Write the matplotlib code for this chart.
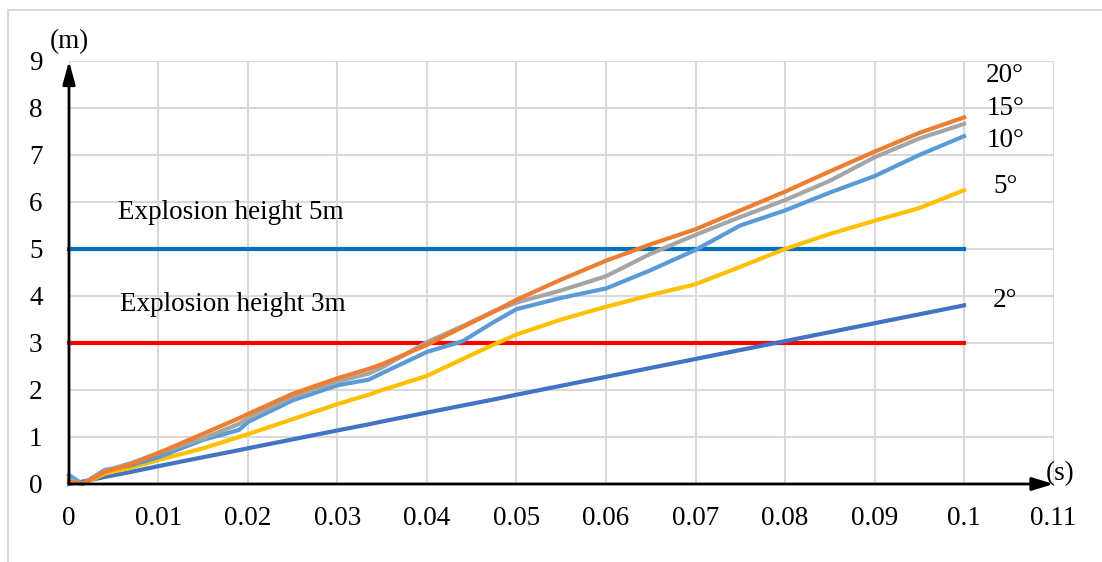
import matplotlib.pyplot as plt
from matplotlib.lines import Line2D

plt.rcParams['font.family'] = ['Liberation Serif', 'DejaVu Serif']

# Time (s) sample points shared by the angle curves
t = [0, 0.0015, 0.004, 0.007, 0.01, 0.015, 0.019, 0.02, 0.025, 0.03, 0.0335,
     0.035, 0.04, 0.044, 0.0475, 0.05, 0.055, 0.06, 0.065, 0.07, 0.075, 0.08,
     0.085, 0.09, 0.095, 0.1]

# Height (m) for each launch angle
h_2 = [0, 0.05, 0.15, 0.26, 0.38, 0.57, 0.72, 0.76, 0.95, 1.14, 1.27,
       1.33, 1.52, 1.67, 1.80, 1.90, 2.09, 2.28, 2.47, 2.66, 2.85, 3.04,
       3.23, 3.42, 3.61, 3.80]
h_5 = [0.12, 0.0, 0.22, 0.35, 0.51, 0.76, 1.0, 1.06, 1.38, 1.70, 1.90,
       2.0, 2.30, 2.66, 2.97, 3.18, 3.50, 3.77, 4.02, 4.25, 4.62, 5.0,
       5.32, 5.60, 5.87, 6.25]
h_10 = [0.19, 0.0, 0.30, 0.40, 0.57, 0.94, 1.15, 1.32, 1.78, 2.10, 2.22,
        2.36, 2.81, 3.04, 3.45, 3.72, 3.96, 4.16, 4.55, 4.98, 5.50, 5.82,
        6.20, 6.55, 7.00, 7.40]
h_15 = [0.1, 0.0, 0.28, 0.45, 0.66, 0.97, 1.28, 1.40, 1.86, 2.18, 2.35,
        2.48, 3.02, 3.36, 3.68, 3.86, 4.12, 4.42, 4.90, 5.30, 5.68, 6.04,
        6.45, 6.95, 7.35, 7.66]
h_20 = [0.05, 0.0, 0.26, 0.42, 0.66, 1.07, 1.40, 1.49, 1.92, 2.25, 2.45,
        2.55, 2.96, 3.34, 3.67, 3.92, 4.35, 4.75, 5.10, 5.42, 5.82, 6.22,
        6.65, 7.07, 7.47, 7.80]

series = [
    (h_2, '#4472C4', '2°', 3.9),
    (h_5, '#FFC000', '5°', 6.32),
    (h_10, '#5B9BD5', '10°', 7.3),
    (h_15, '#A5A5A5', '15°', 7.98),
    (h_20, '#ED7D31', '20°', 8.7),
]

# Explosion heights
ref_x = [0, 0.1]
ref_5 = [5, 5]
ref_3 = [3, 3]

x_ticks = [0, 0.01, 0.02, 0.03, 0.04, 0.05, 0.06, 0.07, 0.08, 0.09, 0.1, 0.11]
x_labels = ['0', '0.01', '0.02', '0.03', '0.04', '0.05', '0.06', '0.07',
            '0.08', '0.09', '0.1', '0.11']
y_ticks = list(range(10))

fig = plt.figure(figsize=(11.02, 5.62), dpi=100)
ax = fig.add_axes([0.0626, 0.1388, 0.8934, 0.7527])

ax.set_xlim(0, 0.11)
ax.set_ylim(0, 9)
ax.set_xticks(x_ticks)
ax.set_xticklabels(x_labels)
ax.set_yticks(y_ticks)
ax.tick_params(axis='both', length=0, labelsize=19.5)
ax.tick_params(axis='x', pad=16)
ax.tick_params(axis='y', pad=19)
ax.grid(True, color='#d9d9d9', linewidth=1.5)
ax.set_axisbelow(True)
for side in ['top', 'right', 'left', 'bottom']:
    ax.spines[side].set_visible(False)

# reference lines
ax.plot(ref_x, ref_5, color='#0070C0', linewidth=3, clip_on=False)
ax.plot(ref_x, ref_3, color='#FF0000', linewidth=3, clip_on=False)

for h, c, lab, ly in series:
    ax.plot(t, h, color=c, linewidth=3, clip_on=False, solid_joinstyle='round')
    ax.text(0.1046, ly, lab, fontsize=19.5, ha='center', va='center')

ax.text(0.0055, 5.77, 'Explosion height 5m', fontsize=19.5, ha='left', va='center')
ax.text(0.0057, 3.81, 'Explosion height 3m', fontsize=19.5, ha='left', va='center')

# arrow axes
ax.annotate('', xy=(0, 9), xytext=(0, 0), xycoords='data',
            arrowprops=dict(arrowstyle='-|>,head_length=1.4,head_width=0.38',
                            color='black', lw=2, shrinkA=0, shrinkB=0),
            annotation_clip=False)
ax.annotate('', xy=(0.11, 0), xytext=(0, 0), xycoords='data',
            arrowprops=dict(arrowstyle='-|>,head_length=1.3,head_width=0.4',
                            color='black', lw=2, shrinkA=0, shrinkB=0),
            annotation_clip=False)
ax.text(0, 9.42, '(m)', fontsize=19.5, ha='center', va='center', clip_on=False)
ax.text(0.1107, 0.23, '(s)', fontsize=19.5, ha='center', va='center', clip_on=False)

# outer frame (top and left only)
fig.add_artist(Line2D([8 / 1102, 1.0], [1 - 10 / 562, 1 - 10 / 562],
                      color='#d9d9d9', linewidth=1.5, transform=fig.transFigure))
fig.add_artist(Line2D([8 / 1102, 8 / 1102], [0, 1 - 10 / 562],
                      color='#d9d9d9', linewidth=1.5, transform=fig.transFigure))

fig.savefig('out.png', dpi=100)
